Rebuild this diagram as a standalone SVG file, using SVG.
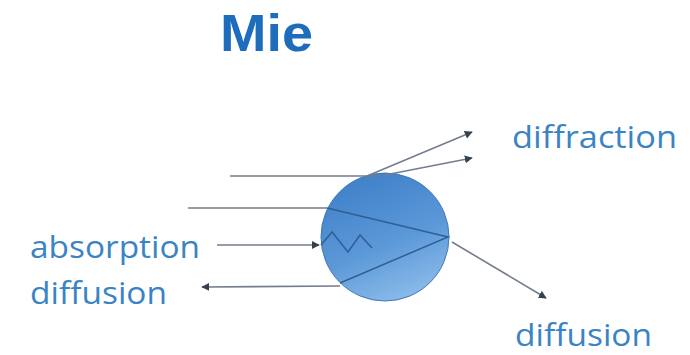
<svg xmlns="http://www.w3.org/2000/svg" width="690" height="355" viewBox="0 0 690 355">
  <defs>
    <linearGradient id="sphere" x1="0.3" y1="0" x2="0.7" y2="1">
      <stop offset="0" stop-color="#3f80c8"/>
      <stop offset="0.55" stop-color="#5b98d8"/>
      <stop offset="1" stop-color="#8dbdea"/>
    </linearGradient>
    <marker id="arrow" viewBox="0 0 10 10" refX="9" refY="5" markerWidth="8" markerHeight="8" orient="auto" markerUnits="userSpaceOnUse">
      <path d="M0,0 L10,5 L0,10 z" fill="#36414f"/>
    </marker>
  </defs>
  <style>
    .label { font-family: "Open Sans", Lato, "Liberation Sans", sans-serif; font-size: 31px; fill: #3a84c4; }
    .title { font-family: "Liberation Sans", Arial, sans-serif; font-size: 52px; font-weight: bold; fill: #1e6cbc; }
    .ray { stroke: #737d8c; stroke-width: 1.6; fill: none; }
    .inner { stroke: #2f5f94; stroke-width: 1.5; fill: none; }
  </style>
  <rect width="690" height="355" fill="#ffffff"/>

  <g id="title">
    <text class="title" x="220" y="51" textLength="93" lengthAdjust="spacingAndGlyphs">Mie</text>
  </g>

  <g id="particle">
    <circle cx="385" cy="237" r="64" fill="url(#sphere)" stroke="#3f78b8" stroke-width="1"/>
  </g>

  <g id="labels">
    <text class="label" x="512" y="148" textLength="165" lengthAdjust="spacingAndGlyphs">diffraction</text>
    <text class="label" x="30" y="258" textLength="170" lengthAdjust="spacingAndGlyphs">absorption</text>
    <text class="label" x="30" y="304" textLength="137" lengthAdjust="spacingAndGlyphs">diffusion</text>
    <text class="label" x="515" y="346" textLength="137" lengthAdjust="spacingAndGlyphs">diffusion</text>
  </g>

  <g id="connectors">
    <!-- grazing ray, diffracted at the top of the sphere -->
    <line class="ray" x1="230" y1="176" x2="380" y2="176"/>
    <line class="ray" x1="367" y1="176" x2="472" y2="132" marker-end="url(#arrow)"/>
    <line class="ray" x1="385" y1="175" x2="472" y2="158" marker-end="url(#arrow)"/>
    <!-- ray refracted through the sphere -->
    <line class="ray" x1="188" y1="208" x2="327" y2="208"/>
    <polyline class="inner" points="327,208 448,237 340,283"/>
    <line class="ray" x1="452" y1="242" x2="546" y2="298" marker-end="url(#arrow)"/>
    <line class="ray" x1="340" y1="286" x2="202" y2="287" marker-end="url(#arrow)"/>
    <!-- absorbed ray -->
    <line class="ray" x1="217" y1="245" x2="319" y2="245" marker-end="url(#arrow)"/>
    <polyline class="inner" points="321,245 332,232 348,252 360,235 372,248"/>
  </g>
</svg>
